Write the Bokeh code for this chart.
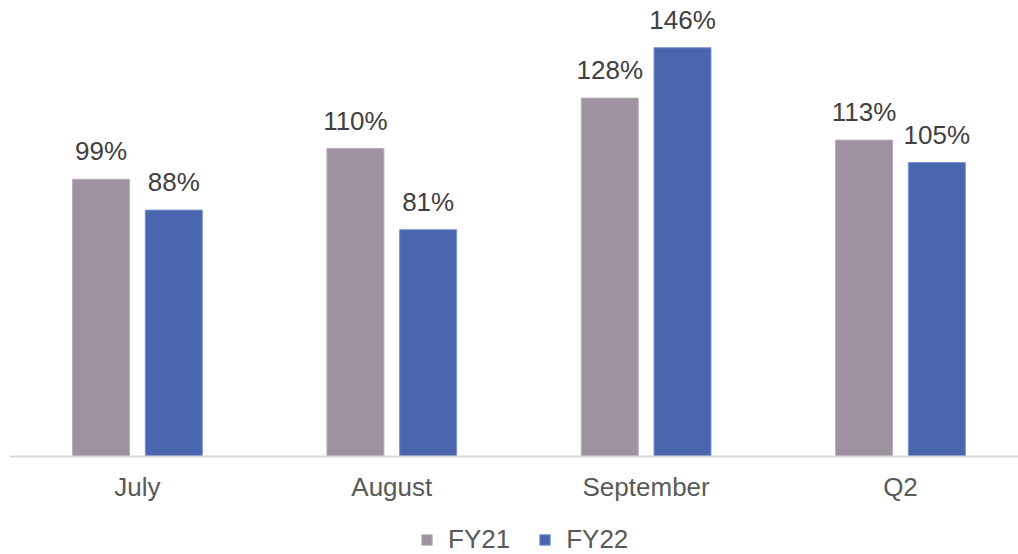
from bokeh.plotting import figure
from bokeh.models import ColumnDataSource, Range1d, Legend, LegendItem
from bokeh.core.properties import value
from bokeh.transform import dodge
from bokeh.embed import file_html
from bokeh.resources import INLINE

categories = ["July", "August", "September", "Q2"]
fy21 = [99, 110, 128, 113]
fy22 = [88, 81, 146, 105]
series_names = ["FY21", "FY22"]

FONT = "Liberation Sans"
FS = "26px"
C21 = "#9e91a0"
C22 = "#4865ad"

xs = list(range(len(categories)))
src = ColumnDataSource(dict(
    x=xs, fy21=fy21, fy22=fy22,
    l21=[f"{v}%" for v in fy21], l22=[f"{v}%" for v in fy22],
))

p = figure(width=1018, height=554, output_backend="svg", toolbar_location=None,
           x_range=Range1d(-0.503, 3.464), y_range=Range1d(-35, 162.86),
           y_axis_location=None, min_border_left=9, min_border_right=0,
           min_border_top=0, min_border_bottom=0)
p.outline_line_color = None
p.xgrid.grid_line_color = None
p.ygrid.grid_line_color = None

w = 0.224
r21 = p.vbar(x=dodge("x", -0.143), top="fy21", width=w, source=src,
             fill_color=C21, line_color="#b8aeb9", line_width=1)
r22 = p.vbar(x=dodge("x", 0.143), top="fy22", width=w, source=src,
             fill_color=C22, line_color="#7b93cc", line_width=1)

for col, lab, off in (("fy21", "l21", -0.143), ("fy22", "l22", 0.143)):
    p.text(x=dodge("x", off), y=col, text=lab, source=src, text_align="center",
           text_baseline="alphabetic", y_offset=-28, text_font=value(FONT),
           text_font_size=FS, text_color="#404040")

ax = p.xaxis[0]
ax.fixed_location = 0
ax.ticker = xs
ax.major_label_overrides = {i: c for i, c in enumerate(categories)}
ax.major_tick_line_color = None
ax.minor_tick_line_color = None
ax.major_tick_out = 0
ax.major_tick_in = 0
ax.axis_line_color = "#d9d9d9"
ax.axis_line_width = 2
ax.major_label_standoff = 15
ax.major_label_text_font = FONT
ax.major_label_text_font_size = FS
ax.major_label_text_color = "#595959"

legend = Legend(items=[LegendItem(label=series_names[0], renderers=[r21]),
                       LegendItem(label=series_names[1], renderers=[r22])],
                orientation="horizontal", location=(411, -1),
                glyph_width=13, glyph_height=13, label_standoff=15, spacing=28,
                padding=0, margin=0, border_line_color=None,
                background_fill_alpha=0,
                label_text_font=FONT, label_text_font_size=FS,
                label_text_color="#595959")
p.add_layout(legend, "center")

open("out.html", "w").write(file_html(p, INLINE))
